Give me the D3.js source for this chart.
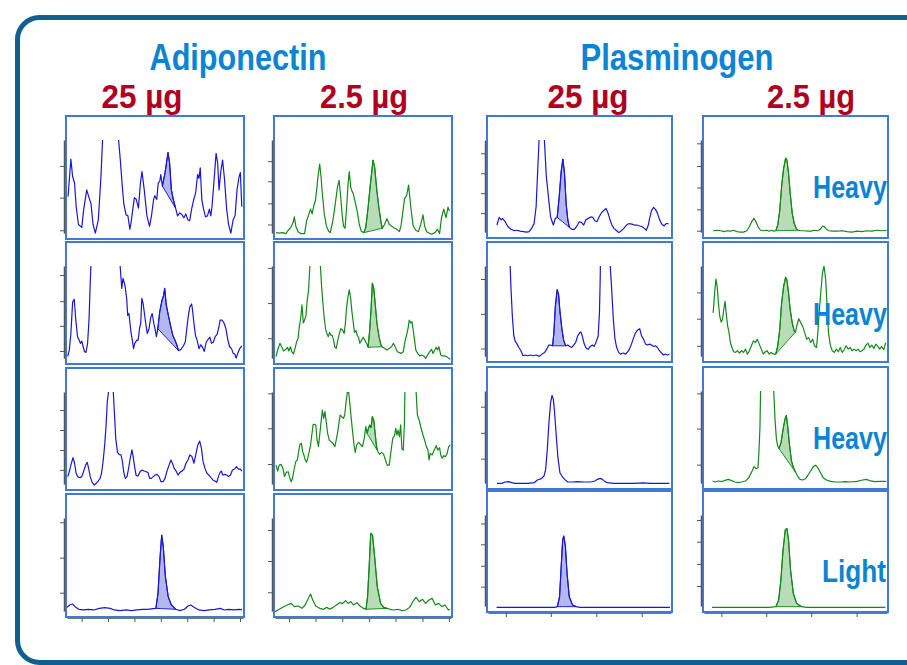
<!DOCTYPE html>
<html lang="en">
<head>
<meta charset="utf-8">
<title>Adiponectin / Plasminogen chromatograms</title>
<script src="https://cdn.jsdelivr.net/npm/d3@7"></script>
<style>
	body { margin: 0; background: #ffffff; }
	text { font-family: "Liberation Sans", Arial, "DejaVu Sans Condensed", sans-serif; font-weight: bold; }
</style>
</head>
<body>
<script>

var proteins = ["Adiponectin", "Plasminogen"];
var amounts = ["25 µg", "2.5 µg", "25 µg", "2.5 µg"];
var rowLabels = ["Heavy", "Heavy", "Heavy", "Light"];

// traces: [retention time (% of window), intensity (% of panel)]
var a25h1 = [[0.6,41],[2.2,80],[3.2,62],[4.3,55],[5.2,31],[6.5,12],[8.4,9],[9.5,28],[11.2,48],[12.5,40],[13.6,34],[14.8,12],[16.1,3],[17.8,17],[19.3,62],[20.2,100],[21.5,150],[29,150],[29.3,100],[30.3,79],[31.4,52],[32.3,33],[33.6,22],[34.6,21],[35.7,7],[36.4,14],[37.4,28],[38.3,40],[39.4,38],[40.6,29],[41.7,55],[42.6,67],[43.9,48],[45.4,21],[46.9,10],[48,21],[49.2,38],[49.9,42],[51,38],[51.8,55],[52.7,57],[53.3,64],[54.2,52],[55.7,66],[57.4,87],[58.3,76],[59.3,48],[60.4,38],[61.7,29],[62.8,21],[64.1,24],[65.4,22],[66.4,19],[67.5,23],[68.6,17],[69.7,16],[70.8,28],[72,38],[73.1,45],[74.2,64],[75,60],[75.7,71],[76.6,38],[77.6,28],[78.7,20],[79.8,21],[80.9,28],[81.7,21],[82.4,31],[83.6,59],[84.7,86],[85.6,76],[86.4,48],[87.3,66],[88.4,79],[89.5,59],[90.7,28],[91.8,12],[93.1,3],[94.4,17],[95.5,21],[96.6,48],[97.8,62],[98.5,66],[99.3,31],[99.6,31]];
var a2h1 = [[0.6,3.5],[2.4,3],[4.3,3.5],[6.2,2.5],[7.5,6],[9,9],[10.3,14],[11,20],[11.8,10.5],[13.1,4.5],[14.6,2.5],[16.8,2.5],[18,16],[19.3,23],[20.2,28],[21.1,23],[22.1,32],[23,37],[24,54],[24.5,63],[25.4,75],[26.2,61],[26.9,44],[28,23],[29.2,10.5],[30.5,5],[31.4,3.5],[32.9,16],[34.2,33],[35.5,51],[36.4,58],[37.4,40],[38.1,23],[38.9,10.5],[39.8,8],[40.7,30],[41.5,54],[42.2,67],[43,51],[43.7,47],[44.5,44],[45.6,35],[46.7,26],[47.9,12],[49,5],[50.5,3.5],[51.6,9],[52.9,30],[54.2,54],[55.7,79],[56.6,72],[57.9,47],[59,30],[60.1,16],[60.9,8],[62.2,12],[63.6,18],[65,12],[66.5,10],[67.9,8],[69.2,7],[70.7,4.5],[71.6,10.5],[72.5,23],[73.6,39],[74.8,42],[75.9,53],[76.6,40],[77.4,26],[78.5,10.5],[80,6],[81.5,4.5],[82.8,12],[84.1,22],[85,10.5],[86.2,4.5],[87.9,2.5],[89.3,2],[90.8,3.5],[92.3,7],[93.5,2.5],[94.6,19],[95.9,28],[97.2,19],[98.3,30],[99.1,26]];
var p25h1 = [[4.9,10.5],[6.1,18.5],[7.2,16],[7.9,17.5],[9.4,14],[10.8,9],[12.6,6],[14.4,4.5],[15.7,5],[17.5,4],[19.3,3.5],[21.1,3],[22.5,3.5],[23.8,7],[25.2,12],[26.3,30],[27,61],[27.9,100],[28.6,130],[30.1,130],[30.8,100],[31.9,61],[33.2,37],[34.2,19],[35.7,10.5],[36.8,17.5],[37.8,18.5],[38.9,40],[40,67],[40.9,80],[41.8,65],[42.7,33],[43.6,16],[44.5,8],[45.8,6],[47.2,6],[48.6,9.5],[49.9,14],[51.2,13],[52.3,10.5],[53.5,16],[54.8,17.5],[56.2,19],[57.3,18.5],[58.4,15],[59.5,14],[60.7,19],[62,23.5],[63.4,26],[64.5,28],[65.6,23],[66.7,16],[67.7,10.5],[68.8,7],[70.3,4.5],[71.5,2.5],[72.8,4.5],[74.2,7],[75.7,10.5],[77.1,12],[78.6,11.5],[80,10.5],[81.4,10.5],[82.9,9.5],[84.1,9],[85.4,7],[86.5,5],[87.6,10.5],[88.3,17.5],[89.4,26],[90.5,29],[91.5,27],[92.6,23],[93.7,16.5],[94.9,11.5],[96.2,9.5],[97.3,12],[98.6,12]];
var p2h1 = [[5,4.5],[7.2,5],[9.4,4.5],[10.8,3.5],[12.6,4.5],[14.4,4],[16.2,5],[18,3.5],[19.8,3],[21.6,3],[23.4,4.5],[24.8,9],[26.1,14],[27.3,17.5],[28.4,14],[29.7,8],[30.9,5],[32.4,4.5],[34.2,5],[35.6,4],[36.9,5],[38.1,4],[39.2,4.5],[40.3,10.5],[41.4,26],[42.4,51],[43.5,70],[44.6,81],[45.3,79],[46.2,65],[47.1,44],[48.2,23],[49.3,12],[50.4,7],[51.4,5],[53.1,4.5],[54.9,4.5],[56.7,4],[58.5,4],[60.3,5],[62.1,4.5],[63.5,6],[64.7,9],[65.6,9],[66.5,7],[68,4.5],[70.1,4],[72.8,4],[75.5,4.5],[78.2,3.5],[80.9,3],[83.6,4],[86.3,3.5],[89,4.5],[91.7,4],[94.4,5],[97.1,4.5],[99.8,5]];

var a25h2 = [[0.4,5],[1.3,11.5],[2.2,29],[3.2,62],[4.1,65],[5,43],[6,25.6],[6.9,22],[7.6,18.6],[8.4,21],[9.1,15.8],[9.9,10],[10.8,9],[11.7,18.6],[12.5,43],[13.2,82],[13.6,100],[14.3,130],[28.9,130],[30.2,100],[31.1,76.5],[31.8,87],[32.9,80],[33.9,66],[34.5,48],[35.2,50],[36.3,31],[37.1,22],[37.8,13],[38.5,18.6],[39.7,22],[40.4,22],[41.2,34],[41.9,40],[42.5,66],[43.2,61],[44,50],[44.7,40],[45.6,29],[46.6,34],[47.5,45],[48.4,50],[49.3,40],[50.1,33],[50.8,25.6],[51.6,34],[52.7,52],[54,64],[54.9,69],[55.5,76.5],[56.4,59],[57.7,47],[59,36],[60.1,27],[61.3,22],[62.4,17],[63.3,11],[64.6,12],[66.1,15.8],[67.2,20],[68,33],[68.9,47],[69.8,57],[70.8,60],[71.3,54],[72.1,40],[73,27],[73.9,22],[75,13],[76,17],[76.9,15],[78,10],[79.1,20],[80.3,23],[81.2,25],[82.1,18.6],[83.2,20],[84.2,25.6],[85.3,28],[86.2,35],[87,43],[88.1,43],[89.2,40],[90.3,34],[91.4,22],[92.4,15],[93.5,13],[94.4,8],[95.3,7.4],[96.1,3],[97,8],[98.1,13],[99.3,15.8]];
var a2h2 = [[0.6,4.6],[1.5,11.6],[2.8,18.6],[3.7,15],[4.9,10.5],[6.2,12.3],[7.1,14.4],[7.9,10.5],[8.8,15],[9.5,9.8],[10.5,7.4],[11.4,13.3],[12.3,20.4],[13.1,24],[13.8,36],[14.6,45],[15.3,59],[16.1,40],[16.8,43],[17.6,48],[18.3,64],[19.1,75],[19.8,100],[20.6,120],[25,120],[25.8,100],[26.5,78],[27.3,59],[28,45],[28.8,33],[29.5,29],[30.3,25.6],[31,30],[31.8,27],[32.5,27],[33.3,22],[34,14.4],[34.8,13.3],[35.7,22],[36.6,29],[37.4,34],[38.3,32.6],[39.3,29],[40,40],[40.7,57],[41.5,68],[42.2,75],[43,66],[43.7,52],[44.5,40],[45.2,30],[46,32],[46.7,27],[47.5,25],[48.2,18.6],[49.2,22],[50.1,25],[51,22],[52,18.6],[52.9,14.4],[53.8,32.6],[54.6,55],[55.3,82],[56.1,76.5],[57,59],[57.9,40],[59.1,25.6],[60.2,16.8],[60.9,15],[62.2,13.3],[63.6,11.6],[65,13.3],[66.2,15],[67.3,18.6],[68.4,14.4],[69.5,9.8],[70.7,8.8],[71.8,8],[72.9,9.8],[74,22],[74.9,28.4],[75.7,35.4],[76.3,43],[77,40],[77.8,41.4],[78.5,32.6],[79.3,22],[80,11.6],[81.1,8],[82.2,5.3],[83.4,6.3],[84.5,5.3],[85.6,2.8],[86.7,6.3],[87.9,9.8],[89,12.3],[89.7,8],[90.8,11.6],[91.6,14.4],[92.3,11.6],[93.1,15],[94.2,6.3],[95.3,5.3],[96.4,5.3],[97.6,4.6],[98.7,2.8],[99.6,1.8]];
var p25h2 = [[11.5,120],[12.1,100],[12.6,74.5],[13.3,46],[14.1,25],[14.8,19.5],[15.9,16],[16.9,12.4],[18,8.9],[19.1,3.5],[20.2,4.3],[21.6,3.5],[23.1,4.3],[24.7,3.5],[26.3,4.3],[28.1,2.8],[29.5,5.3],[31,7.1],[32.1,10.6],[33.2,15],[34.2,15],[35.3,14.2],[36,28.4],[36.8,56.7],[37.8,74.5],[38.6,69],[39.3,51.4],[40.4,32],[41.4,19.5],[42.5,14.2],[43.6,15],[44.7,13.5],[45.8,12.4],[46.8,15],[47.9,17.7],[49,24.8],[50.1,28.4],[50.8,29],[51.5,24.8],[52.6,16],[53.7,11.3],[54.8,10.6],[55.9,13.5],[57,15],[58,13.5],[59.1,18.4],[60.2,24.8],[60.9,49.6],[61.3,85],[61.4,100],[61.8,113],[66.5,113],[66.8,100],[67.6,74.5],[68.5,42.5],[69.4,21.3],[70.3,12.4],[71.4,7.1],[72.4,5.3],[73.9,6.4],[75.3,5.3],[76.8,8.9],[78.2,14.9],[79.6,23],[80.7,28.4],[81.8,31.2],[82.9,32.6],[83.9,24.8],[85,21.3],[86.1,16],[87.2,15],[88.3,16],[89.4,15],[90.5,13.5],[91.5,14.2],[92.6,12.4],[93.7,8.9],[94.8,6.4],[95.9,4.3],[96.9,5.3],[98,4.3],[99.1,5]];
var p2h2 = [[5,49.6],[5.8,71],[6.5,86],[7.2,78],[7.9,60],[8.6,46],[9.4,39.7],[10.1,42.5],[10.8,53],[11.5,62],[12.2,47.9],[12.9,35.5],[13.7,28.4],[14.4,17.7],[15.3,12.4],[16.2,7.8],[17.3,7.1],[18.3,8.9],[19.4,6.4],[20.5,8.9],[21.6,7.1],[22.7,10.6],[23.7,5.3],[24.8,8.9],[25.9,14.2],[27,19.5],[28.1,17.7],[29.1,21.3],[30.2,16],[31.3,10.6],[32.4,5.3],[33.5,7.8],[34.5,8.9],[35.6,5.3],[36.7,7.1],[37.8,5.3],[39.2,5.3],[40.3,14.2],[41.4,32],[42.4,60],[43.5,78],[44.6,88],[45.3,85],[46.2,71],[47.1,53],[48.2,39],[49.3,30],[50,29],[50.7,35.5],[51.8,43.3],[52.9,39],[54,34.8],[55,28.4],[56.1,21.3],[57.2,23],[58.3,17.7],[59.4,21.3],[60.4,14.2],[61.5,12.4],[62.2,28.4],[62.9,49.6],[63.8,71],[64.7,92],[65.6,100],[66.5,85],[67.3,56.7],[68,28.4],[69.1,14.2],[70.1,8.9],[71.2,7.1],[72.3,10.6],[73.4,7.8],[74.5,12.4],[75.5,7.1],[76.6,9.9],[77.7,14.2],[78.8,10.6],[79.9,12.4],[80.9,8.9],[82,10.6],[83.1,8.9],[84.2,10.6],[85.3,7.8],[86.3,8.9],[87.4,10.6],[88.5,14.9],[89.6,17],[90.6,12.4],[91.7,14.9],[92.8,11.3],[93.9,16],[95,13.5],[96,10.6],[97.1,13.5],[98.2,9.9],[99.3,17.7]];

var a25h3 = [[0.4,10.9],[1.3,16],[2.2,23],[3.4,31],[4.3,25],[5.2,14.4],[6.1,10.9],[7.3,9.8],[8.4,10.9],[9.5,16.8],[10.6,23],[11.5,26],[12.3,19.6],[13.2,10.9],[14.3,4.9],[15.5,2.1],[16.6,3.9],[17.7,6.3],[18.8,9.1],[19.6,14.4],[20.5,26.7],[21.4,44],[22.2,65],[22.9,90],[23.6,100],[24.2,115],[25.7,115],[26.3,100],[27,76],[27.7,51],[28.7,36.5],[29.6,34.4],[30.7,33.7],[31.5,26.7],[32.2,16.1],[33.1,9.1],[34.1,10.9],[35,19.6],[35.9,30],[36.9,39],[37.6,32],[38.4,21.4],[39.3,11.9],[40.4,11.6],[41.5,16.1],[42.6,17.9],[43.8,16.8],[44.9,16.1],[46,15.4],[46.9,9.1],[47.9,9.1],[49,10.9],[50.1,12.6],[51.2,13.3],[52.3,10.9],[53.4,5.6],[54.6,5.6],[55.7,9.1],[56.8,16.8],[58,23],[59,28.4],[59.9,25],[60.9,19.6],[62,16.8],[63.1,12.6],[64.2,15.4],[65.4,16.8],[66.5,18.9],[67.6,25],[68.7,28.4],[69.8,33.7],[71,32],[72.1,25],[73.2,34.4],[74.3,44],[75.4,48.4],[76.4,40.7],[77.3,26.7],[78.4,19.6],[79.5,14.4],[80.6,12.6],[81.8,9.8],[82.9,7.4],[84,6.3],[85.1,4.9],[86,10.9],[87,15.4],[87.7,16.8],[88.5,12.6],[89.6,13.3],[90.7,12.6],[91.8,10.9],[92.9,12.6],[94,17.9],[95.2,18.9],[96.3,21.4],[97.4,18.9],[98.5,18.9],[99.3,16.8]];
var a2h3 = [[0.6,23],[1.5,16.8],[2.4,23],[3.4,23.9],[4.5,19.6],[5.4,10.9],[6.4,15.4],[7.5,16.1],[8.2,10.9],[9.2,5.6],[9.9,9.1],[10.8,17.9],[11.8,26.7],[12.7,28.4],[13.5,37.9],[14.2,44.9],[15,46],[15.7,37.2],[16.4,33.7],[17.2,28.4],[17.9,26],[18.7,30.9],[19.4,37.2],[20.2,44.2],[20.9,54.7],[21.7,66],[22.4,66],[23.2,65.3],[23.9,49.5],[24.7,42.5],[25.4,54.7],[26.2,68.8],[26.9,81],[27.7,72.3],[28.4,79.3],[29.2,67],[29.9,56.5],[30.8,49.5],[31.8,47.7],[32.9,46],[34,42.5],[34.8,49.5],[35.5,56.5],[36.3,67],[37,75.8],[37.8,74],[38.9,72.3],[39.6,75.8],[40.4,89.8],[41.1,99.6],[41.9,99.6],[42.6,86.3],[43.4,70.5],[44.1,58.2],[44.9,44.2],[45.6,36.5],[46.4,44.2],[47.5,47],[48.6,44.9],[49.7,42.5],[50.8,51.9],[51.6,63.5],[52.3,56.5],[53.1,61.8],[53.8,65.3],[54.6,62.5],[55.3,74],[56.1,70.5],[56.8,58.2],[57.6,44.2],[58.3,37.9],[59.4,34.4],[60.6,36.5],[61.7,34.4],[62.8,28.4],[63.7,23],[64.9,23],[65.8,36.5],[66.9,51.2],[67.9,54],[68.6,61.8],[69.3,54.7],[69.9,60],[70.7,53],[71.4,65.3],[72.1,40],[72.9,38.9],[73.5,65.3],[73.8,99.6],[74.2,114],[79.8,114],[80.2,99.6],[80.9,75.8],[81.9,70.5],[83,61.8],[84.1,54.7],[85,49.5],[86,42.5],[86.9,38.9],[87.5,28.4],[88.2,35.4],[89.3,33.7],[90.5,38.9],[91.6,43.5],[92.5,38.9],[93.5,41.4],[94.2,33.7],[95,30.2],[95.9,33],[96.8,31.9],[97.8,35.4],[98.7,42.5],[99.6,44.2]];
var p25h3 = [[4.9,2.8],[7.6,2.8],[9.4,4.2],[11.2,4.6],[13,3.5],[14.8,2.8],[18.4,2.8],[22,2.8],[25.2,3.5],[27,6.3],[29.2,7.7],[30.6,10.5],[31.5,17.5],[32.4,38.6],[33.3,66.7],[34.2,87.7],[35,95.4],[35.7,91.2],[36.4,77.2],[37.3,52.6],[38.2,29.8],[39.3,14],[40.4,10.5],[41.8,7],[43.6,4.2],[46.3,4.2],[49,4.6],[52.6,4.2],[56.2,4.2],[58.4,5.3],[59.8,7],[61.3,8],[62.5,7],[63.8,4.9],[65.2,3.5],[68.8,2.8],[74.2,2.8],[79.6,2.8],[85,3.2],[88.6,2.8],[94.1,2.8],[99.1,2.8]];
var p2h3 = [[4.7,5.3],[6.1,4.2],[7.9,5.3],[9.7,4.6],[11.5,6],[13.3,7],[15.1,5.6],[16.9,4.2],[18.7,3.5],[20.5,4.2],[22.7,5.3],[24.5,8.8],[26.3,15.8],[27.3,20.4],[28.6,18.2],[29.5,19.3],[30,35],[30.6,63],[30.9,100],[31.3,116],[37.6,116],[38.1,100],[38.8,70],[39.6,49],[40.3,42],[41,39.3],[42.1,45.6],[43.2,59.6],[44.2,70],[45,74.4],[45.7,63],[46.8,42],[47.8,26.3],[48.9,19.3],[50,14.7],[51.1,10.5],[52.5,7],[54,6.3],[55.4,7.7],[56.5,10.5],[58.3,15.8],[59.7,20.4],[61,21.8],[62.2,19.3],[63.7,14],[65.1,8.8],[66.9,6.3],[69.1,4.9],[71.8,4.2],[74.5,4.2],[77.2,4.6],[79.9,4.2],[83.5,4.9],[86.7,6.3],[88.8,7],[91,5.3],[93.3,4.6],[96,4.9],[99.6,4.9]];

var a25l = [[0,7],[1.5,9.4],[3.1,10.4],[4.6,7.6],[6.7,4.9],[9.2,4.2],[12.2,4.9],[15.3,4.2],[18.3,5.9],[21.4,6.6],[24.5,5.9],[26.9,4.2],[30,3.5],[33.6,4.2],[36.7,3.5],[39.8,4.2],[42.8,4.9],[45.9,4.9],[48.9,5.6],[50.5,5.9],[51.7,21.5],[52.9,59.7],[53.8,82.3],[54.7,70.1],[55.9,38.9],[57.5,18],[59.3,9.4],[61.8,4.9],[64.2,3.5],[66.7,4.9],[68.8,8.3],[70.3,9.4],[72.2,7],[74.9,4.2],[78,3.5],[81,4.2],[84.1,4.9],[87.2,5.9],[89.3,4.2],[91.7,4.9],[94.8,4.2],[97.9,4.9],[99.4,4.5]];
var a2l = [[0,2.4],[2.4,4.9],[4.9,7.6],[7,9.4],[9.2,11.1],[11,7.6],[13.1,8.3],[15.3,5.9],[17.1,9.4],[19,16.3],[20.2,20.8],[21.4,14.6],[23.2,8.3],[25.4,5.9],[27.5,4.9],[29.4,6.9],[31.2,4.9],[33,6.9],[34.9,9.4],[36.7,11.8],[38.5,11.1],[40.1,13.9],[41.6,11.1],[43.1,12.8],[44.6,9.4],[46.5,11.8],[48.3,8.3],[50.2,5.9],[51.7,4.9],[52.6,18],[53.5,49.3],[54.4,84],[55.4,82.3],[56.6,59.7],[58.1,28.5],[60,11.1],[61.8,6.9],[63.6,5.9],[65.4,4.9],[67.3,4.2],[69.7,4.9],[72.2,3.5],[74.3,4.2],[76.5,6.9],[78.3,12.8],[80.1,17.4],[82,12.8],[83.8,15.3],[85.6,11.1],[87.5,14.6],[89.3,16.3],[91.1,9.4],[93,11.1],[94.8,7.6],[96.6,9.4],[98.5,4.2],[99.4,4.9]];
var p25l = [[4.7,1.8],[14.2,1.8],[23.1,1.8],[32,1.8],[36.4,1.8],[37.9,2.5],[39.1,13],[40,45],[40.8,73.4],[41.4,77.7],[42.3,66.3],[43.2,38],[44.4,13],[46.2,4.3],[48.2,2.5],[50.3,1.8],[58.6,1.8],[70.4,1.8],[82.2,1.8],[91.1,1.8],[99.4,1.8]];
var p2l = [[4.4,1.8],[14.8,1.8],[26.6,1.8],[35.5,1.8],[39.3,2.5],[40.8,9.6],[42,30.9],[43.2,62.8],[44.4,84],[45.3,85.8],[46.2,73.4],[47.3,41.5],[48.8,16.7],[50.6,6],[53.3,2.5],[56.2,1.8],[65.1,1.8],[76.9,1.8],[88.8,1.8],[99.1,1.8]];

var traces = [
	[a25h1, a2h1, p25h1, p2h1],
	[a25h2, a2h2, p25h2, p2h2],
	[a25h3, a2h3, p25h3, p2h3],
	[a25l, a2l, p25l, p2l]
];

// integrated peak windows (start, end retention time)
var peaks = [
	[[54.2,61.7], [50.5,60.9], [37.8,44.5], [39.2,51.4]],
	[[51.6,63.3], [52.9,60.9], [35.3,42.5], [39.2,50.0]],
	[null, [52.3,58.3], null, [41.0,50.0]],
	[[50.5,61.8], [51.7,63.6], [37.9,48.2], [39.3,53.3]]
];

var yTicks = [
	[[6,40,73], [12,34,57,78], [23,44,65,86], [4.5,27,50,72.6,96.5]],
	[[10.5,37,63,90.5], [24,61,98], [11.3,48.6,86], [14.2,43.3,71.6]],
	[[18,39,60,81], [24.2,61.8,98.6], [28.8,56,83.5], [22.5,60.4,97.5]],
	[[22.2,58.7,95.5], [22.6,55.2,87.5], [23.8,46,68.8,91], [24.5,47.9,71.6,94.7]]
];

var xTicks = [
	[8.3,23.3,38.3,53.3,68.3,83.3,98.3],
	[8,23,38.2,53.5,68.5,83.8,98.8],
	[9.8,34.3,59.2,84],
	[9.5,34,58.6,83.4]
];


var colX = [[66,244], [274,452], [487,672], [703,888]];
var rowYLeft = [[116,239], [242,364], [368,490], [494,617]];
var rowYRight = [[116,238], [242,362], [367,489], [491,612]];

var titleBlue = "#0b84d4";
var titleRed = "#b0001e";

var svg = d3.select("body")
			.append("svg")
			.attr("width", 907)
			.attr("height", 665);

svg.append("rect")
	.attr("x", 17.5)
	.attr("y", 17.5)
	.attr("width", 960)
	.attr("height", 645)
	.attr("rx", 22)
	.attr("fill", "none")
	.attr("stroke", "#0f5f8f")
	.attr("stroke-width", 5);

for (var r = 0; r < 4; r++) {
	for (var c = 0; c < 4; c++) {
		drawPanel(r, c);
	}
}

function drawPanel(r, c) {
	var bx = colX[c];
	var by = (c < 2 ? rowYLeft : rowYRight)[r];
	var data = traces[r][c];
	var blue = (c % 2 == 0);
	var lineColor = blue ? "#1818d4" : "#14881a";
	var fillColor = blue ? "#b6b6ef" : "#b8dbb8";

	var x = d3.scaleLinear().domain([0, 100]).range([bx[0] + 1, bx[1] - 1]);
	var y = d3.scaleLinear().domain([0, 100]).range([by[1] - 3, by[0] + 24]);

	var g = svg.append("g");

	g.append("rect")
		.attr("x", bx[0]).attr("y", by[0])
		.attr("width", bx[1] - bx[0]).attr("height", by[1] - by[0])
		.attr("fill", "#ffffff");

	var clipId = "clip" + r + "" + c;
	g.append("clipPath").attr("id", clipId)
		.append("rect")
		.attr("x", bx[0])
		.attr("y", y(100))
		.attr("width", bx[1] - bx[0])
		.attr("height", by[1] - y(100));

	var plot = g.append("g").attr("clip-path", "url(#" + clipId + ")");

	var pk = peaks[r][c];
	if (pk) {
		var seg = data.filter(function(d){ return d[0] >= pk[0] && d[0] <= pk[1]; });
		var a = seg[0], b = seg[seg.length - 1];
		var base = function(t){ return a[1] + (b[1] - a[1]) * (t - a[0]) / (b[0] - a[0]); };
		var area = d3.area()
					.x(function(d){ return x(d[0]); })
					.y0(function(d){ return y(base(d[0])); })
					.y1(function(d){ return y(d[1]); });
		plot.append("path")
			.datum(seg)
			.attr("d", area)
			.attr("fill", fillColor)
			.attr("stroke", lineColor)
			.attr("stroke-width", 1);
	}

	var line = d3.line()
				.x(function(d){ return x(d[0]); })
				.y(function(d){ return y(d[1]); });

	plot.append("path")
		.datum(data)
		.attr("d", line)
		.attr("fill", "none")
		.attr("stroke", lineColor)
		.attr("stroke-width", 1.2)
		.attr("stroke-linejoin", "round");

	g.append("rect")
		.attr("x", bx[0]).attr("y", by[0])
		.attr("width", bx[1] - bx[0]).attr("height", by[1] - by[0])
		.attr("fill", "none")
		.attr("stroke", "#3f7bd6")
		.attr("stroke-width", 2);

	var yAxisScale = y.copy().domain([3, 100]).range([y(3), y(100)]);
	var yAx = g.append("g")
		.attr("transform", "translate(" + (bx[0] - 2) + ",0)")
		.call(d3.axisLeft(yAxisScale).tickValues(yTicks[r][c]).tickSize(4).tickSizeOuter(0).tickFormat(""));
	yAx.select(".domain").attr("stroke", "#555").attr("stroke-width", 1.5);
	yAx.selectAll(".tick line").attr("stroke", "#555");

	if (r == 3) {
		var xAx = g.append("g")
			.attr("transform", "translate(0," + (by[1] + 1) + ")")
			.call(d3.axisBottom(x).tickValues(xTicks[c]).tickSize(4).tickSizeOuter(0).tickFormat(""));
		xAx.select(".domain").attr("stroke", "#777").attr("stroke-width", 1);
		xAx.selectAll(".tick line").attr("stroke", "#555");
	}
}

// headings
var titleX = [238, 677];
var titleW = [177, 193];
svg.selectAll(".protein")
	.data(proteins)
	.enter()
	.append("text")
	.attr("class", "protein")
	.attr("x", function(d, i){ return titleX[i]; })
	.attr("y", 70)
	.attr("text-anchor", "middle")
	.attr("font-size", "36px")
	.attr("fill", titleBlue)
	.attr("textLength", function(d, i){ return titleW[i]; })
	.attr("lengthAdjust", "spacingAndGlyphs")
	.text(function(d){ return d; });

var amountX = [142, 364, 588, 811];
svg.selectAll(".amount")
	.data(amounts)
	.enter()
	.append("text")
	.attr("class", "amount")
	.attr("x", function(d, i){ return amountX[i]; })
	.attr("y", 108)
	.attr("text-anchor", "middle")
	.attr("font-size", "34px")
	.attr("fill", titleRed)
	.attr("textLength", function(d){ return d.length > 5 ? 88 : 81; })
	.attr("lengthAdjust", "spacingAndGlyphs")
	.text(function(d){ return d; });

var labelY = [198, 325, 449, 582];
svg.selectAll(".rowlabel")
	.data(rowLabels)
	.enter()
	.append("text")
	.attr("class", "rowlabel")
	.attr("x", function(d){ return d == "Light" ? 822 : 813; })
	.attr("y", function(d, i){ return labelY[i]; })
	.attr("font-size", "31px")
	.attr("fill", titleBlue)
	.attr("textLength", function(d){ return d == "Light" ? 64 : 74; })
	.attr("lengthAdjust", "spacingAndGlyphs")
	.text(function(d){ return d; });

</script>
</body>
</html>
